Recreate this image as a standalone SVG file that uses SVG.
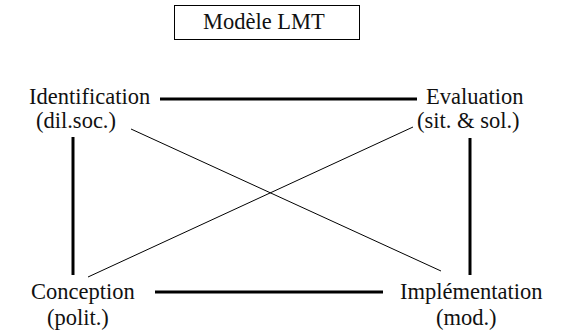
<svg xmlns="http://www.w3.org/2000/svg" width="569" height="334" viewBox="0 0 569 334">
<style>
text{font-family:"Liberation Serif","Times New Roman","DejaVu Serif",serif;font-size:22.5px;fill:#111}
.thick{stroke:#000;stroke-width:3;fill:none}
.thin{stroke:#000;stroke-width:1;fill:none}
</style>
<rect width="569" height="334" fill="#fff"/>
<g id="title"><rect x="174.5" y="5.5" width="185" height="34" fill="#fff" stroke="#000" stroke-width="1"/><text x="203" y="29">Modèle LMT</text></g>
<g id="connectors">
<line class="thick" x1="160" y1="99" x2="417" y2="99"/>
<line class="thick" x1="155" y1="292" x2="383" y2="292"/>
<line class="thick" x1="73" y1="137" x2="73" y2="275"/>
<line class="thick" x1="470" y1="138" x2="470" y2="275"/>
<line class="thin" x1="131" y1="129" x2="441" y2="271"/>
<line class="thin" x1="413" y1="127" x2="88" y2="277"/>
</g>
<g id="identification"><text x="29" y="104">Identification</text><text x="36" y="128">(dil.soc.)</text></g>
<g id="evaluation"><text x="426" y="104">Evaluation</text><text x="417" y="128">(sit. &amp; sol.)</text></g>
<g id="conception"><text x="31" y="299">Conception</text><text x="47" y="325">(polit.)</text></g>
<g id="implementation"><text x="400" y="299">Implémentation</text><text x="436" y="325">(mod.)</text></g>
</svg>
